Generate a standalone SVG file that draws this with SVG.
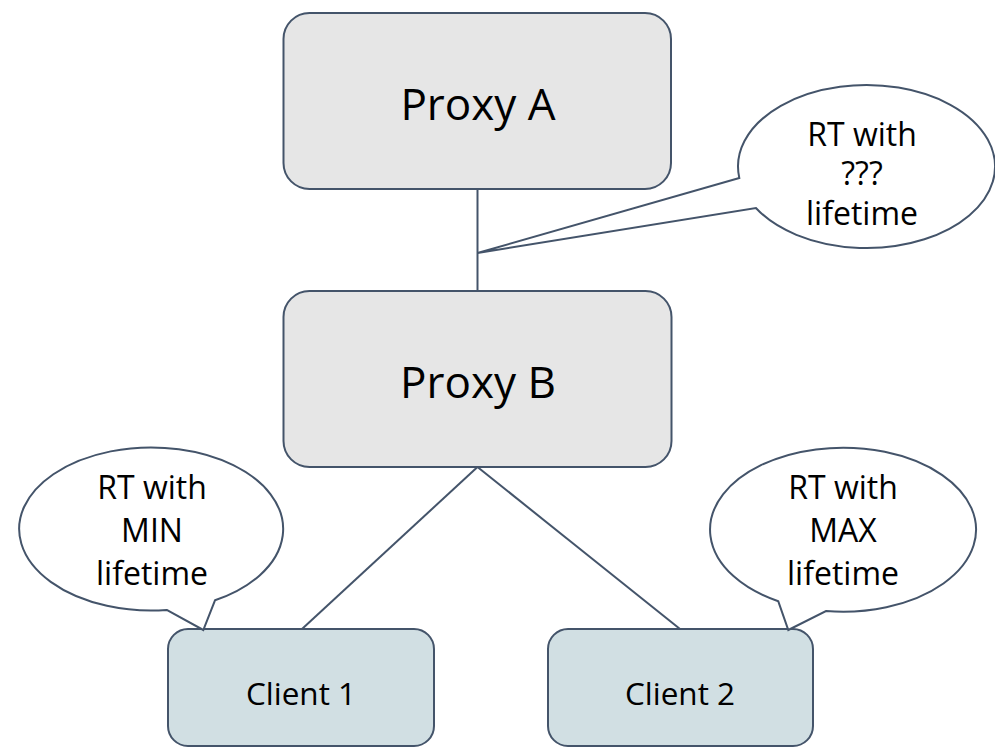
<svg xmlns="http://www.w3.org/2000/svg" width="995" height="749" viewBox="0 0 995 749">
  <style>
    .proxy { fill: #e6e6e6; stroke: #44546a; stroke-width: 2; }
    .client { fill: #d1dfe3; stroke: #44546a; stroke-width: 2; }
    .bubble { fill: #ffffff; stroke: #44546a; stroke-width: 2; stroke-linejoin: miter; }
    .link { stroke: #44546a; stroke-width: 2; fill: none; }
    text { font-family: "Open Sans", "Noto Sans", "Liberation Sans", sans-serif; fill: #000000; text-anchor: middle; }
    .big { font-size: 44px; }
    .mid { font-size: 31.5px; }
    .note { font-size: 32px; }
  </style>
  <rect width="995" height="749" fill="#ffffff"/>

  <!-- connectors -->
  <g id="connectors">
    <line class="link" x1="477.5" y1="189" x2="477.5" y2="291"/>
    <line class="link" x1="477.5" y1="467" x2="302" y2="629"/>
    <line class="link" x1="477.5" y1="467" x2="680" y2="629"/>
  </g>

  <g id="proxy-a">
    <rect class="proxy" x="283.5" y="13" width="387.5" height="176" rx="26" ry="26"/>
    <text class="big" x="478" y="120">Proxy A</text>
  </g>

  <g id="proxy-b">
    <rect class="proxy" x="283.5" y="291" width="388" height="176" rx="26" ry="26"/>
    <text class="big" x="478" y="398">Proxy B</text>
  </g>

  <g id="client-1">
    <rect class="client" x="168" y="629" width="266" height="117" rx="20" ry="20"/>
    <text class="mid" x="301" y="705">Client 1</text>
  </g>

  <g id="client-2">
    <rect class="client" x="548" y="629" width="265" height="117" rx="20" ry="20"/>
    <text class="mid" x="680" y="705">Client 2</text>
  </g>

  <!-- callout on the Proxy A / Proxy B link -->
  <g id="note-unknown">
    <path class="bubble" d="M 739.3,178 L 477.5,253 L 755.9,208 A 128.5 81.5 0 1 0 739.3,178 Z"/>
    <text class="note" x="862" y="146">RT with</text>
    <text class="note" x="862" y="185">???</text>
    <text class="note" x="862" y="225">lifetime</text>
  </g>

  <!-- callout on Client 1 -->
  <g id="note-min">
    <path class="bubble" d="M 166.7,609.9 L 203.3,630 L 215,600.3 A 132 81.5 0 1 0 166.7,609.9 Z"/>
    <text class="note" x="152" y="499">RT with</text>
    <text class="note" x="152" y="542">MIN</text>
    <text class="note" x="152" y="585">lifetime</text>
  </g>

  <!-- callout on Client 2 -->
  <g id="note-max">
    <path class="bubble" d="M 778.3,601.3 L 788.3,630 L 826,611 A 133 82 0 1 0 778.3,601.3 Z"/>
    <text class="note" x="843" y="499">RT with</text>
    <text class="note" x="843" y="542">MAX</text>
    <text class="note" x="843" y="585">lifetime</text>
  </g>
</svg>
